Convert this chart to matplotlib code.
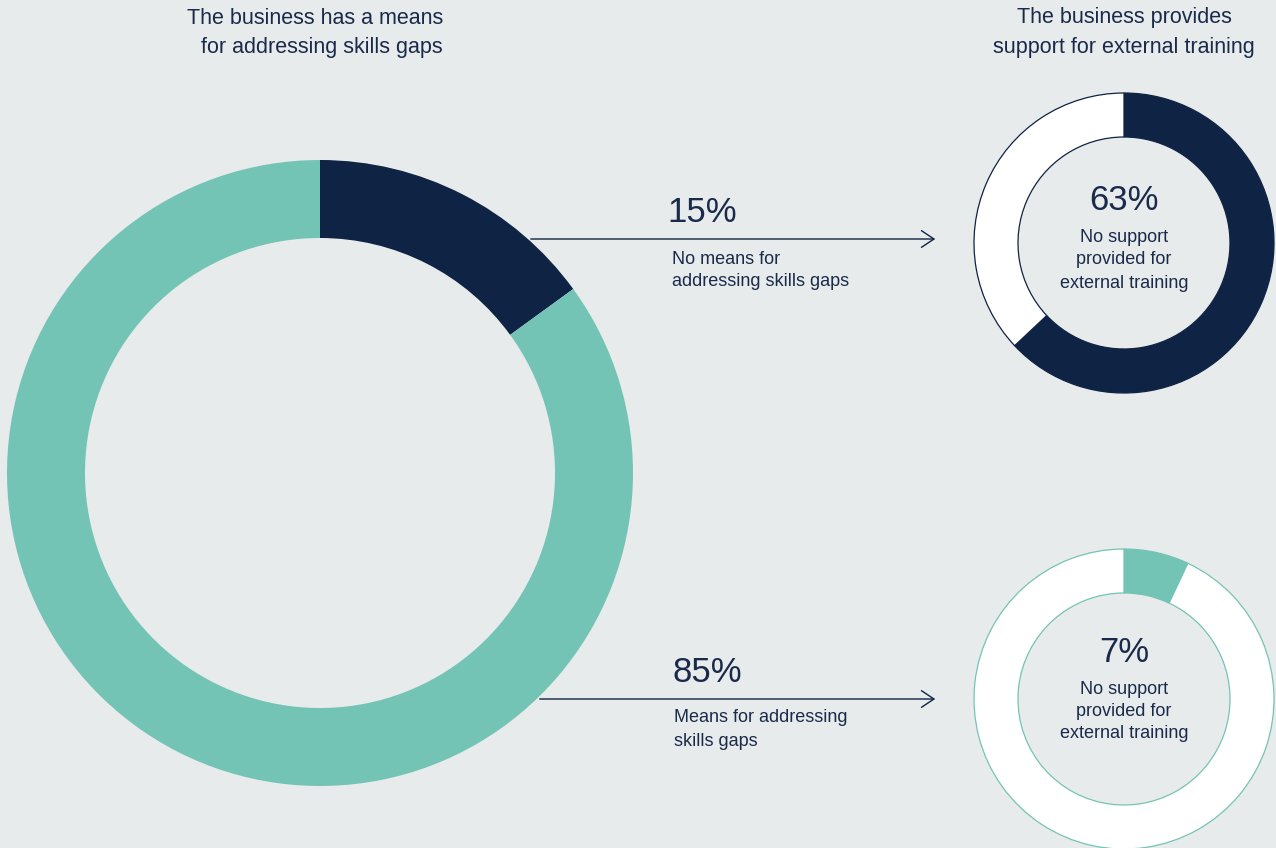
import matplotlib.pyplot as plt
from matplotlib.patches import FancyArrowPatch

# shares, in percent, clockwise from 12 o'clock
means_share = [15, 85]              # no means / means for addressing skills gaps
support_no_means = [63, 37]         # no support / rest
support_means = [7, 93]

left_title = ["The business has a means", "for addressing skills gaps"]
right_title = ["The business provides", "support for external training"]
no_means_label = ["No means for", "addressing skills gaps"]
means_label = ["Means for addressing", "skills gaps"]
centre_label = ["No support", "provided for", "external training"]

BG = "#e8ebeb"
NAVY = "#0f2344"
TEAL = "#74c4b5"
TXT = "#1a2a4a"
H = 848

plt.rcParams['font.family'] = ['Liberation Sans', 'DejaVu Sans']

fig = plt.figure(figsize=(12.76, 8.48), dpi=100, facecolor=BG)
ax = fig.add_axes([0, 0, 1, 1])
ax.set_xlim(0, 1276)
ax.set_ylim(0, H)
ax.set_aspect('equal')
ax.axis('off')


def lines(x, ys, texts, size, ha='left'):
    for y, t in zip(ys, texts):
        ax.text(x, H - y, t, fontsize=size, color=TXT, ha=ha, va='center')


# big donut
ax.pie(means_share, colors=[NAVY, TEAL], startangle=90, counterclock=False,
       center=(320, H - 473), radius=313,
       wedgeprops=dict(width=78, linewidth=0))

# small donuts on the right
ax.pie(support_no_means, colors=[NAVY, 'white'], startangle=90, counterclock=False,
       center=(1124, H - 243), radius=150,
       wedgeprops=dict(width=44, edgecolor=NAVY, linewidth=0.9))
ax.pie(support_means, colors=[TEAL, 'white'], startangle=90, counterclock=False,
       center=(1124, H - 699), radius=150,
       wedgeprops=dict(width=44, edgecolor=TEAL, linewidth=0.9))
ax.set_xlim(0, 1276)
ax.set_ylim(0, H)
ax.axis('off')

# titles
lines(443, [18, 47], left_title, 15.5, ha='right')
lines(1124, [18, 47], right_title, 15.5, ha='center')

# arrows
for x0, y in [(528, 239), (537, 699)]:
    ax.add_patch(FancyArrowPatch((x0, H - y), (938, H - y),
                                 arrowstyle='->,head_length=0.45,head_width=0.3',
                                 mutation_scale=20, color=NAVY, lw=1.0))

lines(667, [213], ["%d%%" % means_share[0]], 25)
lines(672, [259, 282], no_means_label, 13)
lines(672, [672], ["%d%%" % means_share[1]], 25)
lines(674, [718, 741], means_label, 13)

# centre texts
lines(1124, [201], ["%d%%" % support_no_means[0]], 25, ha='center')
lines(1124, [238, 260, 283], centre_label, 13, ha='center')
lines(1124, [652], ["%d%%" % support_means[0]], 25, ha='center')
lines(1124, [689, 712, 734], centre_label, 13, ha='center')

fig.savefig("out.png", dpi=100, facecolor=BG)
